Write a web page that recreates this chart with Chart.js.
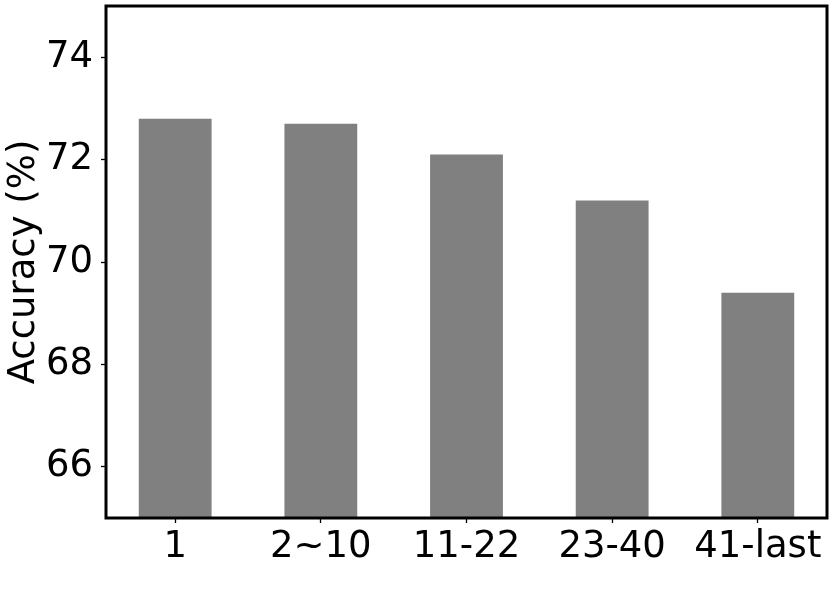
<!DOCTYPE html>
<html>
<head>
<meta charset="utf-8">
<script src="https://cdn.jsdelivr.net/npm/chart.js@4"></script>
<style>
  html, body { margin: 0; padding: 0; background: #fff; }
  #wrap { width: 831px; height: 591px; }
</style>
</head>
<body>
<div id="wrap"><canvas id="chart" width="831" height="591"></canvas></div>
<script>
// Data
const categories = ['1', '2~10', '11-22', '23-40', '41-last'];
const accuracy = [72.8, 72.7, 72.1, 71.2, 69.4];
const yTicks = [66, 68, 70, 72, 74];

const FONT = 'DejaVu Sans';
Chart.defaults.font.family = FONT;
Chart.defaults.color = '#000';

// Draw the full black frame round the plot area (matplotlib style)
const framePlugin = {
  id: 'frame',
  afterDraw(chart) {
    const { ctx, chartArea: a } = chart;
    ctx.save();
    ctx.strokeStyle = '#000';
    ctx.lineWidth = 3;
    ctx.strokeRect(a.left, a.top, a.right - a.left, a.bottom - a.top);
    ctx.restore();
  }
};

// no extra label padding, so the plot area sits where we put it
function noPad(axis) {
  axis.paddingTop = 0;
  axis.paddingBottom = 0;
  axis.paddingLeft = 0;
  axis.paddingRight = 0;
}

const ctx = document.getElementById('chart').getContext('2d');
new Chart(ctx, {
  type: 'bar',
  data: {
    datasets: [{
      data: accuracy.map((v, i) => ({ x: i, y: v })),
      backgroundColor: '#808080',
      borderWidth: 0,
      barPercentage: 0.5,
      categoryPercentage: 1
    }]
  },
  options: {
    responsive: false,
    animation: false,
    layout: { padding: { top: 6, right: 4, left: 0, bottom: 0 } },
    plugins: { legend: { display: false }, tooltip: { enabled: false } },
    scales: {
      x: {
        type: 'linear',
        offset: false,
        min: -0.475,
        max: categories.length - 1 + 0.475,
        afterBuildTicks: axis => { axis.ticks = categories.map((_, i) => ({ value: i })); },
        afterFit: axis => { axis.height = 73; noPad(axis); },
        grid: { offset: false, drawOnChartArea: false, drawTicks: true, tickLength: 5, tickWidth: 1.3, tickColor: '#000' },
        border: { display: false },
        ticks: {
          font: { size: 37 },
          padding: 2,
          maxRotation: 0,
          autoSkip: false,
          callback: v => categories[v]
        }
      },
      y: {
        min: 65,
        max: 75,
        afterBuildTicks: axis => { axis.ticks = yTicks.map(v => ({ value: v })); },
        afterFit: axis => { axis.width = 106; noPad(axis); },
        grid: { drawOnChartArea: false, drawTicks: true, tickLength: 5, tickWidth: 1.3, tickColor: '#000' },
        border: { display: false },
        ticks: { font: { size: 37 }, padding: 8 },
        title: {
          display: true,
          text: 'Accuracy (%)',
          font: { size: 37 },
          padding: { top: 2, bottom: 0 }
        }
      }
    }
  },
  plugins: [framePlugin]
});
</script>
</body>
</html>
